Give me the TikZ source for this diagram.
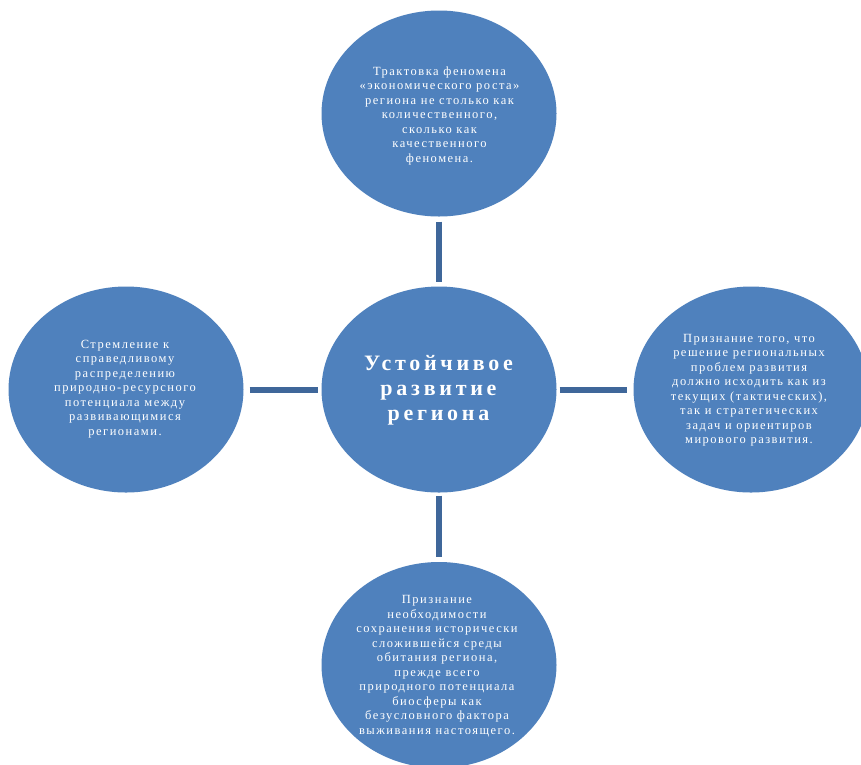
\documentclass[tikz,border=0pt]{standalone}
\usepackage{fontspec}
\setmainfont{Liberation Serif}
\newfontfamily\spaced[LetterSpace=12]{Liberation Serif}
\newfontfamily\spacedbold[LetterSpace=17]{Liberation Serif Bold}
\usetikzlibrary{shapes.geometric}
\definecolor{bubble}{HTML}{4F81BD}
\definecolor{connc}{HTML}{3F679A}
\tikzset{
  bubble/.style={ellipse, fill=bubble, draw=none, minimum width=235pt, minimum height=206pt, inner sep=0pt},
  small/.style={text=white, align=center, font=\spaced\fontsize{12.5}{14.5}\selectfont, inner sep=0pt},
  big/.style={text=white, align=center, font=\spacedbold\fontsize{22}{25}\selectfont, inner sep=0pt},
  conn/.style={draw=connc, line width=6pt},
}
\begin{document}
\begin{tikzpicture}[x=1pt,y=-1pt]
\clip (0,0) rectangle (861,764);
\fill[white] (0,0) rectangle (861,764);
\node[bubble] (top) at (439,113.5) {};
\node[bubble] (center) at (439,389.5) {};
\node[bubble] (left) at (126,389.5) {};
\node[bubble] (right) at (751,389.5) {};
\node[bubble] (bottom) at (439,665) {};
\draw[conn, shorten <=5pt, shorten >=4pt] (top.south) -- (center.north);
\draw[conn, shorten <=6pt, shorten >=3pt] (left.east) -- (center.west);
\draw[conn, shorten <=3pt, shorten >=6pt] (center.east) -- (right.west);
\draw[conn, shorten <=3pt, shorten >=5pt] (center.south) -- (bottom.north);
\node[small] (toptext) at (439.5,115.5) {Трактовка феномена\\«экономического роста»\\региона не столько как\\количественного,\\сколько как\\качественного\\феномена.};
\node[big] (centertext) at (438.5,390) {Устойчивое\\развитие\\региона};
\node[small] (lefttext) at (125,389) {Стремление к\\справедливому\\распределению\\природно-ресурсного\\потенциала между\\развивающимися\\регионами.};
\node[small] (righttext) at (749,390) {Признание того, что\\решение региональных\\проблем развития\\должно исходить как из\\текущих (тактических),\\так и стратегических\\задач и ориентиров\\мирового развития.};
\node[small] (bottomtext) at (437,666) {Признание\\необходимости\\сохранения исторически\\сложившейся среды\\обитания региона,\\прежде всего\\природного потенциала\\биосферы как\\безусловного фактора\\выживания настоящего.};
\end{tikzpicture}
\end{document}
